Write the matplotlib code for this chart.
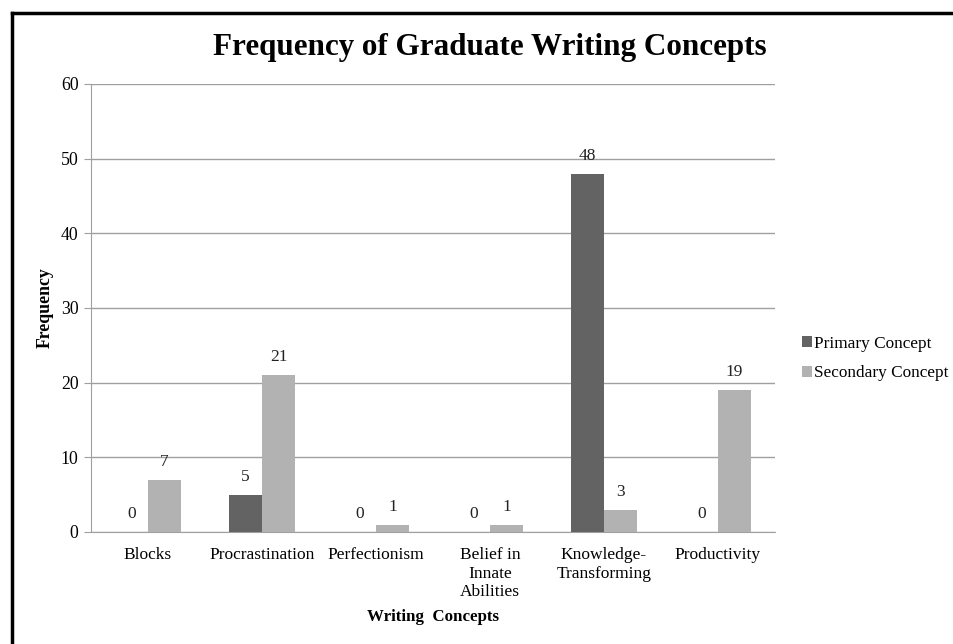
import matplotlib
matplotlib.use("Agg")
import matplotlib.pyplot as plt
import numpy as np
from matplotlib.lines import Line2D

categories = ["Blocks", "Procrastination", "Perfectionism",
              "Belief in\nInnate\nAbilities", "Knowledge-\nTransforming", "Productivity"]
primary = [0, 5, 0, 0, 48, 0]
secondary = [7, 21, 1, 1, 3, 19]
series_names = ["Primary Concept", "Secondary Concept"]
yticks = [0, 10, 20, 30, 40, 50, 60]

plt.rcParams['font.family'] = ['Liberation Serif', 'DejaVu Serif']

W, H = 954, 644
fig = plt.figure(figsize=(W/100, H/100), dpi=100)
ax = fig.add_axes([91/W, 1-532/H, (775-91)/W, (532-84)/H])

x = np.arange(len(categories))
bw = 0.29
c1, c2 = "#636363", "#b2b2b2"
b1 = ax.bar(x - bw/2, primary, bw, color=c1, label=series_names[0], zorder=3)
b2 = ax.bar(x + bw/2, secondary, bw, color=c2, label=series_names[1], zorder=3)

for rects, vals in ((b1, primary), (b2, secondary)):
    for r, v in zip(rects, vals):
        ax.text(r.get_x() + r.get_width()/2, v + 1.3, str(v), ha='center', va='bottom',
                fontsize=12.5, color='#222222')

ax.set_xlim(-0.5, len(categories) - 0.5)
ax.set_ylim(0, 60)
ax.set_yticks(yticks)
ax.yaxis.grid(True, color='#a0a0a0', linewidth=1, zorder=0)
ax.set_xticks(x)
ax.set_xticklabels(categories, fontsize=12.5, linespacing=1.2)
ax.tick_params(axis='x', length=0, pad=11)
ax.tick_params(axis='y', length=5, color='#a0a0a0', labelsize=12.8, pad=4)
for s in ['top', 'right']:
    ax.spines[s].set_visible(False)
ax.spines['left'].set_color('#a0a0a0')
ax.spines['bottom'].set_color('#a0a0a0')

fig.text(490/W, 1-47/H, "Frequency of Graduate Writing Concepts", ha='center', va='center',
         fontsize=22.4, fontweight='bold')
fig.text(45/W, 1-308/H, "Frequency", rotation=90, ha='center', va='center',
         fontsize=12.8, fontweight='bold')
fig.text(433/W, 1-617/H, "Writing  Concepts", ha='center', va='center',
         fontsize=12.2, fontweight='bold')

leg = fig.legend(handles=[b1, b2], labels=series_names, loc='upper left',
                 bbox_to_anchor=(786/W, 1-320/H), frameon=False, fontsize=12.4,
                 handlelength=0.6, handleheight=0.6, handletextpad=0.15, labelspacing=0.8)

# outer frame (cut off at right and bottom)
fig.add_artist(Line2D([12/W, 1.0], [1-13/H, 1-13/H], color='black', linewidth=2.5,
                      transform=fig.transFigure))
fig.add_artist(Line2D([12/W, 12/W], [0.0, 1-13/H], color='black', linewidth=2.5,
                      transform=fig.transFigure))

fig.savefig("out.png", dpi=100)
